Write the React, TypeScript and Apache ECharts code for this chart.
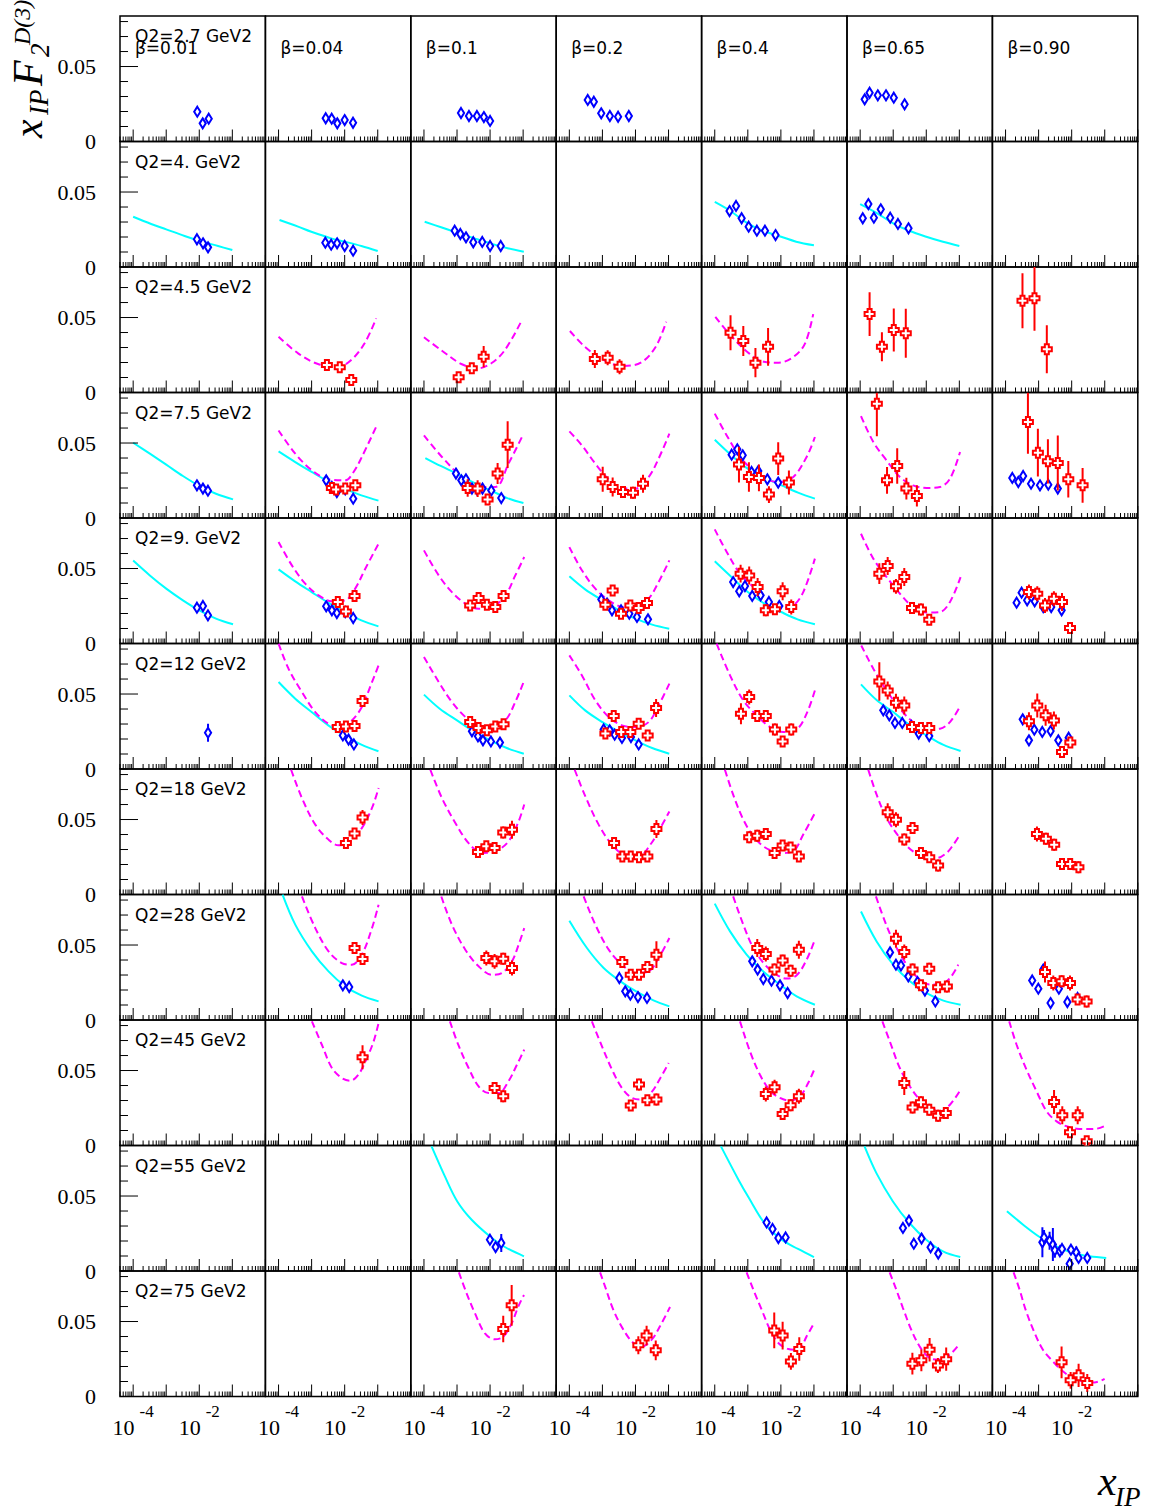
import React, { useEffect, useRef } from "react";
import * as echarts from "echarts";

const LEFT = 120;
const TOP = 16;
const CELL_W = 145.4;
const CELL_H = 125.5;
const X_MIN = 4e-5;
const X_MAX = 1;
const Y_MAX = 0.0837;

const q2Labels = [
  "Q2=2.7 GeV2", "Q2=4. GeV2", "Q2=4.5 GeV2", "Q2=7.5 GeV2", "Q2=9. GeV2", "Q2=12 GeV2",
  "Q2=18 GeV2", "Q2=28 GeV2", "Q2=45 GeV2", "Q2=55 GeV2", "Q2=75 GeV2",
];
const betaLabels = ["β=0.01", "β=0.04", "β=0.1", "β=0.2", "β=0.4", "β=0.65", "β=0.90"];
const yTickValues = [0, 0.01, 0.02, 0.03, 0.04, 0.05, 0.06, 0.07, 0.08];
const xDecades = [-5, -4, -3, -2, -1, 0];

// key = "row-col" (1-based), rows = Q2 bins, cols = beta bins
// blue diamonds: [x_IP, xF2, err?]
const blueDiamonds: Record<string, number[][]> = {
  "1-1": [[8.7e-3, 0.0199], [1.27e-2, 0.0121], [1.93e-2, 0.0152]],
  "1-2": [[2.67e-3, 0.0155], [4.05e-3, 0.0152], [5.98e-3, 0.0121], [1.0e-2, 0.0143], [1.79e-2, 0.0125]],
  "1-3": [[1.32e-3, 0.019], [2.3e-3, 0.017], [4.0e-3, 0.017], [6.5e-3, 0.0163], [1.0e-2, 0.0137]],
  "1-4": [[3.6e-4, 0.0277], [5.5e-4, 0.0265], [9.2e-4, 0.0188], [1.68e-3, 0.017], [2.98e-3, 0.0165], [6.3e-3, 0.017]],
  "1-6": [[1.37e-4, 0.0281], [1.93e-4, 0.0325], [3.42e-4, 0.0308], [6.05e-4, 0.0308], [1.04e-3, 0.0292], [2.21e-3, 0.0248]],
  "2-1": [[8.5e-3, 0.0185], [1.3e-2, 0.0158], [1.84e-2, 0.0131]],
  "2-2": [[2.6e-3, 0.0162], [3.9e-3, 0.0149], [5.9e-3, 0.0158], [1.0e-2, 0.014], [1.8e-2, 0.0109]],
  "2-3": [[8.5e-4, 0.0242], [1.26e-3, 0.022], [1.87e-3, 0.0198], [3.1e-3, 0.0165], [5.8e-3, 0.0167], [1.0e-2, 0.014], [2.1e-2, 0.014]],
  "2-5": [[2.8e-4, 0.0373], [4.4e-4, 0.0407], [6.5e-4, 0.0325], [1.06e-3, 0.0269], [1.88e-3, 0.0242], [3.3e-3, 0.0242], [6.9e-3, 0.0213]],
  "2-6": [[1.2e-4, 0.0325], [1.77e-4, 0.042], [2.6e-4, 0.0329], [4.2e-4, 0.0385], [8.1e-4, 0.0329], [1.39e-3, 0.0287], [2.9e-3, 0.0258]],
  "4-1": [[8.5e-3, 0.0218], [1.29e-2, 0.0196], [1.83e-2, 0.0182]],
  "4-2": [[2.76e-3, 0.0251], [4.1e-3, 0.0207], [5.8e-3, 0.0173], [1.04e-2, 0.0191], [1.81e-2, 0.0129]],
  "4-3": [[9.3e-4, 0.0296], [1.35e-3, 0.0251], [1.86e-3, 0.0258], [2.83e-3, 0.0196], [4.0e-3, 0.0191], [5.9e-3, 0.0196], [1.09e-2, 0.0184], [2.18e-2, 0.0133]],
  "4-5": [[3.24e-4, 0.0422], [4.8e-4, 0.0458], [7.0e-4, 0.0418], [1.3e-3, 0.0307], [2.07e-3, 0.0313], [3.9e-3, 0.0258], [8.3e-3, 0.0236]],
  "4-7": [[1.6e-4, 0.0267], [2.43e-4, 0.024], [3.4e-4, 0.028], [5.9e-4, 0.0229], [1.1e-3, 0.0218], [1.96e-3, 0.0222], [3.8e-3, 0.0196]],
  "5-1": [[8.5e-3, 0.0239], [1.29e-2, 0.025], [1.83e-2, 0.0188]],
  "5-2": [[2.76e-3, 0.0248], [4.1e-3, 0.0221], [5.8e-3, 0.0203], [1.04e-2, 0.021], [1.81e-2, 0.017]],
  "5-4": [[9.3e-4, 0.0294], [1.38e-3, 0.0266], [1.95e-3, 0.0221], [3.65e-3, 0.0221], [6.5e-3, 0.0199], [1.11e-2, 0.0177], [2.39e-2, 0.0161]],
  "5-5": [[3.6e-4, 0.041], [5.5e-4, 0.0348], [8.2e-4, 0.0383], [1.36e-3, 0.0317], [2.44e-3, 0.0321], [4.35e-3, 0.0277], [8.95e-3, 0.025]],
  "5-7": [[2.16e-4, 0.0272], [3.06e-4, 0.0339], [4.5e-4, 0.0288], [7.6e-4, 0.0281], [1.38e-3, 0.0243], [2.4e-3, 0.0243], [4.97e-3, 0.0221]],
  "6-1": [[1.84e-2, 0.0242, 0.006]],
  "6-2": [[8.8e-3, 0.0224], [1.31e-2, 0.0196], [1.9e-2, 0.0164]],
  "6-3": [[2.83e-3, 0.0251], [4.3e-3, 0.0218], [6.1e-3, 0.0191], [1.06e-2, 0.0184], [1.99e-2, 0.0176]],
  "6-4": [[1.09e-3, 0.0264], [1.66e-3, 0.0258], [2.35e-3, 0.0229], [3.9e-3, 0.0207], [7.3e-3, 0.0213], [1.25e-2, 0.0164]],
  "6-6": [[5.0e-4, 0.0391], [7.6e-4, 0.0358], [1.13e-3, 0.0307], [1.88e-3, 0.0307], [3.5e-3, 0.0287], [5.9e-3, 0.0236], [1.23e-2, 0.022]],
  "6-7": [[3.3e-4, 0.0331], [5.1e-4, 0.0191], [7.4e-4, 0.0262], [1.29e-3, 0.0247], [2.3e-3, 0.0253], [3.94e-3, 0.0191], [8.1e-3, 0.0209]],
  "8-2": [[8.8e-3, 0.0231], [1.37e-2, 0.022]],
  "8-4": [[3.25e-3, 0.028], [4.9e-3, 0.0191], [7.0e-3, 0.0169], [1.19e-2, 0.0153], [2.23e-2, 0.0147]],
  "8-5": [[1.36e-3, 0.0391], [1.98e-3, 0.0336], [2.94e-3, 0.0273], [5.2e-3, 0.0262], [9.4e-3, 0.0231], [1.6e-2, 0.018]],
  "8-6": [[8.0e-4, 0.0451], [1.21e-3, 0.0369], [1.72e-3, 0.0364], [2.86e-3, 0.0291], [5.4e-3, 0.0253], [9.1e-3, 0.0196], [1.88e-2, 0.0124]],
  "8-7": [[6.4e-4, 0.0264], [9.8e-4, 0.0209], [1.38e-3, 0.0336], [2.3e-3, 0.0113], [4.1e-3, 0.0209], [7.4e-3, 0.012], [1.51e-2, 0.0147]],
  "10-3": [[9.9e-3, 0.0209], [1.47e-2, 0.016], [2.18e-2, 0.0187, 0.006]],
  "10-5": [[3.7e-3, 0.0324], [5.6e-3, 0.028], [8.4e-3, 0.022], [1.39e-2, 0.0224]],
  "10-6": [[1.97e-3, 0.0287], [2.99e-3, 0.0336], [4.2e-3, 0.0182], [7.2e-3, 0.0216], [1.35e-2, 0.0158], [2.3e-2, 0.0116]],
  "10-7": [
    [1.3e-3, 0.0191, 0.01], [1.46e-3, 0.0224, 0.005], [2.15e-3, 0.0202, 0.006], [2.7e-3, 0.0176, 0.011],
    [3.1e-3, 0.0138, 0.005], [4.4e-3, 0.0131], [5.1e-3, 0.0147], [8.7e-3, 0.0049], [9.5e-3, 0.0142],
    [1.38e-2, 0.0124, 0.004], [1.62e-2, 0.0087], [2.96e-2, 0.0087],
  ],
};

// red crosses: [x_IP, xF2, err]
const redCrosses: Record<string, number[][]> = {
  "3-2": [[2.9e-3, 0.0183, 0.002], [7.1e-3, 0.0168, 0.002], [1.58e-2, 0.0083, 0.002]],
  "3-3": [[1.12e-3, 0.0101, 0.002], [2.8e-3, 0.0161, 0.003], [6.4e-3, 0.0239, 0.0071]],
  "3-4": [[5.9e-4, 0.0223, 0.006], [1.44e-3, 0.0232, 0.005], [3.3e-3, 0.0172, 0.005]],
  "3-5": [[3.0e-4, 0.0399, 0.0117], [7.3e-4, 0.0343, 0.01], [1.7e-3, 0.0199, 0.0097], [4.1e-3, 0.0305, 0.0126]],
  "3-6": [[1.93e-4, 0.0523, 0.0146], [4.55e-4, 0.0305, 0.0097], [1.04e-3, 0.0417, 0.0144], [2.4e-3, 0.0395, 0.0163]],
  "3-7": [[3.25e-4, 0.0612, 0.0183], [7.5e-4, 0.0628, 0.0217], [1.77e-3, 0.0288, 0.016]],
  "4-2": [[4.1e-3, 0.02, 0.003], [5.5e-3, 0.019, 0.003], [1.04e-2, 0.0196, 0.003], [2.1e-2, 0.0218, 0.003]],
  "4-3": [[2.1e-3, 0.02, 0.0059], [4.2e-3, 0.0196, 0.0056], [8.4e-3, 0.0124, 0.003], [1.69e-2, 0.0296, 0.007], [3.4e-2, 0.0489, 0.0156]],
  "4-4": [[1.02e-3, 0.0258, 0.0083], [2.04e-3, 0.0207, 0.0063], [4.2e-3, 0.0173, 0.004], [8.4e-3, 0.0169, 0.004], [1.69e-2, 0.0229, 0.006]],
  "4-5": [[5.4e-4, 0.0356, 0.0119], [1.08e-3, 0.0273, 0.0098], [2.17e-3, 0.0267, 0.0089], [4.35e-3, 0.0156, 0.0056], [8.3e-3, 0.0396, 0.0109], [1.75e-2, 0.0236, 0.008]],
  "4-6": [[3.2e-4, 0.0762, 0.0216], [6.5e-4, 0.0251, 0.0089], [1.32e-3, 0.0347, 0.0118], [2.5e-3, 0.0196, 0.0073], [5.2e-3, 0.0147, 0.0071]],
  "4-7": [[4.75e-4, 0.064, 0.0211], [9.5e-4, 0.0436, 0.0159], [1.91e-3, 0.0378, 0.0148], [3.8e-3, 0.0367, 0.0183], [7.9e-3, 0.0258, 0.0122], [2.14e-2, 0.0218, 0.0116]],
  "5-2": [[6.2e-3, 0.0277, 0.003], [1.09e-2, 0.0214, 0.003], [1.99e-2, 0.0317, 0.003]],
  "5-3": [[2.5e-3, 0.0254, 0.003], [4.5e-3, 0.0303, 0.003], [8.0e-3, 0.0259, 0.003], [1.44e-2, 0.0243, 0.003], [2.56e-2, 0.0317, 0.004]],
  "5-4": [[1.23e-3, 0.0259, 0.003], [2.04e-3, 0.0354, 0.003], [3.65e-3, 0.0199, 0.003], [7.0e-3, 0.0254, 0.003], [1.25e-2, 0.0237, 0.003], [2.23e-2, 0.027, 0.003]],
  "5-5": [[6.05e-4, 0.0466, 0.006], [1.1e-3, 0.0454, 0.006], [1.98e-3, 0.0377, 0.006], [3.5e-3, 0.0221, 0.004], [6.6e-3, 0.0228, 0.003], [1.13e-2, 0.0348, 0.006], [2.06e-2, 0.0243, 0.005]],
  "5-6": [[3.8e-4, 0.0466, 0.007], [6.8e-4, 0.0517, 0.006], [1.21e-3, 0.0381, 0.005], [2.16e-3, 0.0443, 0.006], [3.7e-3, 0.0237, 0.004], [6.9e-3, 0.0226, 0.004], [1.23e-2, 0.0159, 0.003]],
  "5-7": [[5.1e-4, 0.0343, 0.005], [9.1e-4, 0.0332, 0.005], [1.56e-3, 0.0254, 0.005], [2.9e-3, 0.0299, 0.005], [5.1e-3, 0.0277, 0.006], [8.9e-3, 0.0103, 0.003]],
  "6-2": [[6.2e-3, 0.028, 0.003], [1.09e-2, 0.0284, 0.003], [1.99e-2, 0.0287, 0.003], [3.47e-2, 0.0453, 0.004]],
  "6-3": [[2.5e-3, 0.0313, 0.003], [4.5e-3, 0.0273, 0.003], [8.0e-3, 0.0258, 0.003], [1.44e-2, 0.0284, 0.003], [2.56e-2, 0.0298, 0.003]],
  "6-4": [[1.23e-3, 0.0236, 0.003], [2.2e-3, 0.0353, 0.003], [3.7e-3, 0.0247, 0.003], [7.0e-3, 0.0247, 0.003], [1.25e-2, 0.0302, 0.003], [2.34e-2, 0.0224, 0.003], [4.2e-2, 0.0407, 0.006]],
  "6-5": [[6.2e-4, 0.0369, 0.007], [1.1e-3, 0.048, 0.005], [1.93e-3, 0.0353, 0.004], [3.5e-3, 0.0353, 0.004], [6.6e-3, 0.0264, 0.004], [1.13e-2, 0.0184, 0.003], [2.06e-2, 0.0264, 0.004]],
  "6-6": [[3.8e-4, 0.0584, 0.0128], [6.8e-4, 0.0524, 0.006], [1.21e-3, 0.0442, 0.006], [2.16e-3, 0.0424, 0.006], [3.7e-3, 0.028, 0.003], [6.9e-3, 0.0273, 0.003], [1.23e-2, 0.0273, 0.003]],
  "6-7": [[5.1e-4, 0.0318, 0.006], [9.1e-4, 0.0424, 0.008], [1.63e-3, 0.0358, 0.007], [2.9e-3, 0.0324, 0.006], [5.1e-3, 0.0113, 0.003], [9.1e-3, 0.0176, 0.003]],
  "7-2": [[1.09e-2, 0.0343, 0.003], [1.99e-2, 0.0406, 0.003], [3.47e-2, 0.0514, 0.005]],
  "7-3": [[4.3e-3, 0.0283, 0.003], [7.7e-3, 0.0321, 0.003], [1.37e-2, 0.031, 0.003], [2.5e-2, 0.0414, 0.004], [4.6e-2, 0.0432, 0.006]],
  "7-4": [[2.25e-3, 0.0343, 0.003], [4.0e-3, 0.0254, 0.003], [7.2e-3, 0.0254, 0.003], [1.28e-2, 0.0248, 0.003], [2.29e-2, 0.0254, 0.003], [4.3e-2, 0.0437, 0.006]],
  "7-5": [[1.1e-3, 0.0381, 0.004], [1.93e-3, 0.0392, 0.004], [3.5e-3, 0.0403, 0.004], [6.45e-3, 0.0277, 0.003], [1.13e-2, 0.0326, 0.003], [1.97e-2, 0.0314, 0.003], [3.5e-2, 0.0254, 0.003]],
  "7-6": [[6.8e-4, 0.0548, 0.006], [1.21e-3, 0.0499, 0.005], [2.16e-3, 0.0366, 0.004], [3.85e-3, 0.0443, 0.004], [6.9e-3, 0.0277, 0.003], [1.23e-2, 0.0248, 0.003], [2.28e-2, 0.0194, 0.004]],
  "7-7": [[8.9e-4, 0.0403, 0.005], [1.66e-3, 0.0372, 0.004], [2.96e-3, 0.0332, 0.004], [5.1e-3, 0.0203, 0.003], [9.0e-3, 0.0203, 0.003], [1.6e-2, 0.0181, 0.004]],
  "8-2": [[1.99e-2, 0.048, 0.004], [3.47e-2, 0.0407, 0.004]],
  "8-3": [[7.7e-3, 0.0413, 0.005], [1.37e-2, 0.0391, 0.005], [2.5e-2, 0.0409, 0.004], [4.6e-2, 0.0347, 0.005]],
  "8-4": [[4.0e-3, 0.0387, 0.004], [7.2e-3, 0.0302, 0.003], [1.28e-2, 0.0302, 0.003], [2.29e-2, 0.0353, 0.003], [4.3e-2, 0.0436, 0.009]],
  "8-5": [[1.93e-3, 0.048, 0.006], [3.5e-3, 0.044, 0.005], [6.4e-3, 0.0336, 0.004], [1.13e-2, 0.0396, 0.004], [1.97e-2, 0.0329, 0.004], [3.5e-2, 0.0469, 0.006]],
  "8-6": [[1.21e-3, 0.0542, 0.006], [2.16e-3, 0.0453, 0.005], [3.85e-3, 0.0336, 0.004], [6.9e-3, 0.0231, 0.003], [1.23e-2, 0.0342, 0.004], [2.28e-2, 0.0218, 0.003], [4.2e-2, 0.0224, 0.004]],
  "8-7": [[1.56e-3, 0.032, 0.007], [2.78e-3, 0.0247, 0.005], [4.97e-3, 0.0258, 0.004], [8.9e-3, 0.0247, 0.005], [1.51e-2, 0.0136, 0.003], [2.83e-2, 0.0124, 0.004]],
  "9-2": [[3.47e-2, 0.0588, 0.008]],
  "9-3": [[1.37e-2, 0.0383, 0.004], [2.5e-2, 0.0328, 0.004]],
  "9-4": [[7.2e-3, 0.0266, 0.003], [1.28e-2, 0.0406, 0.004], [2.29e-2, 0.0301, 0.003], [4.3e-2, 0.0306, 0.004]],
  "9-5": [[3.5e-3, 0.0343, 0.005], [6.45e-3, 0.0388, 0.005], [1.13e-2, 0.021, 0.003], [1.97e-2, 0.0268, 0.004], [3.5e-2, 0.0328, 0.005]],
  "9-6": [[2.16e-3, 0.0417, 0.008], [3.85e-3, 0.0254, 0.004], [6.9e-3, 0.0288, 0.004], [1.23e-2, 0.0239, 0.004], [2.28e-2, 0.0199, 0.004], [3.9e-2, 0.0217, 0.004]],
  "9-7": [[2.93e-3, 0.029, 0.008], [5.2e-3, 0.0201, 0.006], [8.9e-3, 0.0088, 0.003], [1.52e-2, 0.0201, 0.006], [2.85e-2, 0.0028, 0.003]],
  "11-3": [[2.5e-2, 0.045, 0.0089], [4.5e-2, 0.0608, 0.0136]],
  "11-4": [[1.22e-2, 0.0341, 0.006], [2.17e-2, 0.0406, 0.0066], [4.1e-2, 0.0308, 0.0066]],
  "11-5": [[6.3e-3, 0.0441, 0.0119], [1.13e-2, 0.0406, 0.0093], [2.01e-2, 0.0234, 0.0056], [3.6e-2, 0.0317, 0.0078]],
  "11-6": [[3.8e-3, 0.0219, 0.0072], [7.1e-3, 0.0241, 0.0072], [1.26e-2, 0.0312, 0.0078], [2.25e-2, 0.0207, 0.005], [4.0e-2, 0.0249, 0.0078]],
  "11-7": [[4.95e-3, 0.0228, 0.0106], [9.3e-3, 0.0108, 0.0056], [1.62e-2, 0.0141, 0.0078], [2.96e-2, 0.009, 0.006]],
};

// solid cyan fit curves
const cyanCurves: Record<string, number[][]> = {
  "2-1": [[1e-4, 0.0335], [3.5e-4, 0.0287], [1e-3, 0.0251], [3.6e-3, 0.0207], [1e-2, 0.0175], [3.7e-2, 0.014], [1e-1, 0.0113]],
  "2-2": [[1.07e-4, 0.0313], [3.9e-4, 0.0269], [9.8e-4, 0.0235], [3.9e-3, 0.0191], [1e-2, 0.0169], [3.2e-2, 0.014], [1e-1, 0.0107]],
  "2-3": [[1.05e-4, 0.0302], [3.3e-4, 0.0265], [1.02e-3, 0.0229], [3.4e-3, 0.0191], [1e-2, 0.0158], [3.4e-2, 0.0125], [1.05e-1, 0.0102]],
  "2-5": [[1e-4, 0.0435], [2.7e-4, 0.038], [1e-3, 0.0291], [2.8e-3, 0.0242], [1.02e-2, 0.0202], [2.9e-2, 0.0169], [1e-1, 0.0145]],
  "2-6": [[1e-4, 0.042], [3.2e-4, 0.036], [1e-3, 0.0291], [3.2e-3, 0.024], [1e-2, 0.0202], [3.2e-2, 0.0168], [1e-1, 0.014]],
  "4-1": [[1e-4, 0.0502], [3.2e-4, 0.0429], [1e-3, 0.0356], [3.2e-3, 0.028], [1.02e-2, 0.0213], [3.2e-2, 0.0162], [1.05e-1, 0.0124]],
  "4-2": [[1e-4, 0.0444], [3.2e-4, 0.0373], [1e-3, 0.0307], [3.2e-3, 0.0244], [1e-2, 0.0196], [3.2e-2, 0.0151], [1.05e-1, 0.0116]],
  "4-3": [[1.1e-4, 0.04], [3.2e-4, 0.0347], [1e-3, 0.0296], [3.2e-3, 0.0236], [1.05e-2, 0.0184], [3.3e-2, 0.0133], [1.02e-1, 0.01]],
  "4-5": [[1e-4, 0.0522], [3.2e-4, 0.0418], [1e-3, 0.0329], [3.3e-3, 0.0267], [1.05e-2, 0.0218], [3.3e-2, 0.0169], [1.07e-1, 0.0129]],
  "5-1": [[1e-4, 0.0553], [3.2e-4, 0.0454], [1e-3, 0.0366], [3.2e-3, 0.0288], [1e-2, 0.0221], [3.2e-2, 0.0166], [1.05e-1, 0.0128]],
  "5-2": [[1e-4, 0.0494], [3.2e-4, 0.0414], [1e-3, 0.0343], [3.2e-3, 0.0272], [1e-2, 0.021], [3.2e-2, 0.0154], [1.05e-1, 0.0114]],
  "5-4": [[1e-4, 0.0448], [3.0e-4, 0.0361], [1e-3, 0.0288], [3.2e-3, 0.0221], [1e-2, 0.0166], [3.2e-2, 0.0126], [1.05e-1, 0.0099]],
  "5-5": [[1e-4, 0.0548], [3.2e-4, 0.0443], [1e-3, 0.0343], [3.2e-3, 0.0266], [1.02e-2, 0.021], [3.2e-2, 0.0161], [1.07e-1, 0.0128]],
  "6-2": [[1e-4, 0.058], [3.2e-4, 0.0469], [1e-3, 0.038], [3.2e-3, 0.0291], [1e-2, 0.0224], [3.2e-2, 0.0162], [1.05e-1, 0.0118]],
  "6-3": [[1e-4, 0.0496], [3.0e-4, 0.0402], [1e-3, 0.0324], [3.2e-3, 0.0251], [1e-2, 0.0191], [3.2e-2, 0.014], [1.05e-1, 0.0102]],
  "6-4": [[1e-4, 0.0491], [3.0e-4, 0.0391], [1e-3, 0.0313], [3.2e-3, 0.0247], [1e-2, 0.0191], [3.2e-2, 0.014], [1.05e-1, 0.0102]],
  "6-6": [[1.06e-4, 0.0564], [3.2e-4, 0.0458], [1e-3, 0.038], [3.2e-3, 0.0291], [1.02e-2, 0.0224], [3.2e-2, 0.0162], [1.09e-1, 0.012]],
  "8-2": [[1.32e-4, 0.0836], [3.2e-4, 0.0636], [1.02e-3, 0.0458], [3.25e-3, 0.0324], [1.04e-2, 0.0224], [3.3e-2, 0.0162], [1.06e-1, 0.0124]],
  "8-4": [[1e-4, 0.0662], [3.4e-4, 0.048], [1.09e-3, 0.0347], [3.5e-3, 0.0258], [1.11e-2, 0.0187], [3.5e-2, 0.0131], [1.06e-1, 0.0091]],
  "8-5": [[1e-4, 0.0776], [2.9e-4, 0.0591], [9.2e-4, 0.0436], [2.93e-3, 0.0324], [9.4e-3, 0.0236], [3.0e-2, 0.0158], [1.07e-1, 0.0102]],
  "8-6": [[1.06e-4, 0.0724], [3.15e-4, 0.0524], [1.0e-3, 0.0369], [3.2e-3, 0.0258], [1.02e-2, 0.018], [3.3e-2, 0.0129], [1.09e-1, 0.0102]],
  "10-3": [[1.7e-4, 0.0831], [4.3e-4, 0.0631], [1.02e-3, 0.0464], [2.77e-3, 0.0342], [1.04e-2, 0.0227], [2.8e-2, 0.016], [1.06e-1, 0.0098]],
  "10-5": [[1.54e-4, 0.0831], [5.2e-4, 0.0609], [1.06e-3, 0.049], [3.3e-3, 0.0315], [1.06e-2, 0.0209], [3.3e-2, 0.0147], [1.0e-1, 0.0093]],
  "10-6": [[1.36e-4, 0.0831], [3.1e-4, 0.0653], [9.8e-4, 0.0464], [3.1e-3, 0.032], [1e-2, 0.0209], [3.2e-2, 0.0131], [1.07e-1, 0.0093]],
  "10-7": [[1.1e-4, 0.0398], [3.4e-4, 0.0309], [1.07e-3, 0.0227], [3.4e-3, 0.0164], [1.09e-2, 0.012], [3.5e-2, 0.0098], [1.11e-1, 0.0087]],
};

// dashed magenta fit curves
const magentaCurves: Record<string, number[][]> = {
  "3-2": [[1e-4, 0.0372], [3.9e-4, 0.0261], [1.56e-3, 0.019], [6.3e-3, 0.0172], [1.58e-2, 0.0217], [4.0e-2, 0.0328], [9.0e-2, 0.0495]],
  "3-3": [[1e-4, 0.0368], [3.3e-4, 0.0283], [1.35e-3, 0.019], [4.3e-3, 0.0161], [1.09e-2, 0.0195], [2.8e-2, 0.0283], [9.2e-2, 0.0483]],
  "3-4": [[1.04e-4, 0.041], [2.95e-4, 0.0305], [1.08e-3, 0.0217], [3.96e-3, 0.0177], [1.45e-2, 0.0199], [4.1e-2, 0.0305], [8.5e-2, 0.0472]],
  "3-5": [[1.04e-4, 0.0505], [2.97e-4, 0.0383], [1.09e-3, 0.0261], [3.1e-3, 0.0205], [8.7e-3, 0.0199], [2.46e-2, 0.0239], [5.4e-2, 0.0328], [9.5e-2, 0.0523]],
  "4-2": [[1e-4, 0.0584], [3.2e-4, 0.0429], [1.02e-3, 0.0318], [3.25e-3, 0.0258], [1.04e-2, 0.0251], [1.86e-2, 0.0307], [3.3e-2, 0.0407], [9.4e-2, 0.0618]],
  "4-3": [[1.0e-4, 0.0551], [3.5e-4, 0.0407], [1.41e-3, 0.0273], [4.5e-3, 0.0207], [1.44e-2, 0.0207], [3.6e-2, 0.0362], [1.03e-1, 0.0562]],
  "4-4": [[1e-4, 0.0578], [2.4e-4, 0.0484], [6.1e-4, 0.0362], [1.55e-3, 0.0258], [3.9e-3, 0.0196], [9.9e-3, 0.0196], [2.5e-2, 0.0273], [5.0e-2, 0.0396], [1.06e-1, 0.0562]],
  "4-5": [[1e-4, 0.0696], [2.3e-4, 0.0551], [5.8e-4, 0.0407], [1.46e-3, 0.0318], [3.7e-3, 0.0258], [9.4e-3, 0.024], [2.37e-2, 0.0273], [6.0e-2, 0.0407], [1.07e-1, 0.054]],
  "4-6": [[1.06e-4, 0.068], [2.5e-4, 0.0507], [6.3e-4, 0.0384], [1.6e-3, 0.0273], [4.0e-3, 0.0218], [1.02e-2, 0.02], [2.6e-2, 0.0207], [5.2e-2, 0.0262], [1.05e-1, 0.044]],
  "5-2": [[1e-4, 0.0677], [2.53e-4, 0.0521], [6.4e-4, 0.0399], [1.62e-3, 0.0321], [4.1e-3, 0.0281], [1.04e-2, 0.0288], [2.08e-2, 0.0366], [4.2e-2, 0.0499], [1.06e-1, 0.0666]],
  "5-3": [[1.0e-4, 0.0621], [2.8e-4, 0.0454], [7.0e-4, 0.0343], [1.78e-3, 0.0266], [4.5e-3, 0.0232], [1.14e-2, 0.0243], [2.9e-2, 0.0321], [5.8e-2, 0.0454], [1.08e-1, 0.0577]],
  "5-4": [[1e-4, 0.0643], [2.4e-4, 0.0488], [6.1e-4, 0.0366], [1.55e-3, 0.0288], [3.9e-3, 0.0243], [9.9e-3, 0.0232], [2.5e-2, 0.0299], [5.0e-2, 0.041], [1.06e-1, 0.0554]],
  "5-5": [[1e-4, 0.0761], [2.3e-4, 0.061], [5.8e-4, 0.0466], [1.46e-3, 0.0377], [3.7e-3, 0.0277], [9.4e-3, 0.0237], [2.37e-2, 0.0254], [4.75e-2, 0.0343], [1.07e-1, 0.0566]],
  "5-6": [[1.06e-4, 0.0732], [2.5e-4, 0.0566], [6.3e-4, 0.0443], [1.6e-3, 0.0332], [4.0e-3, 0.0243], [1.02e-2, 0.0206], [2.6e-2, 0.021], [5.2e-2, 0.0277], [1.09e-1, 0.0443]],
  "6-2": [[1e-4, 0.0836], [2.0e-4, 0.0669], [5.1e-4, 0.0513], [1.29e-3, 0.038], [3.25e-3, 0.0302], [8.2e-3, 0.028], [1.65e-2, 0.0324], [3.3e-2, 0.0413], [6.7e-2, 0.058], [1.06e-1, 0.0691]],
  "6-3": [[1.0e-4, 0.0747], [2.8e-4, 0.058], [7.0e-4, 0.0447], [1.78e-3, 0.0347], [4.5e-3, 0.028], [1.14e-2, 0.0269], [2.9e-2, 0.0324], [5.8e-2, 0.0447], [1.08e-1, 0.0591]],
  "6-4": [[1e-4, 0.0758], [2.4e-4, 0.0624], [6.1e-4, 0.0458], [1.55e-3, 0.0347], [3.9e-3, 0.0291], [9.9e-3, 0.028], [2.5e-2, 0.0313], [5.0e-2, 0.0424], [1.06e-1, 0.0569]],
  "6-5": [[1.14e-4, 0.0836], [2.9e-4, 0.0624], [7.3e-4, 0.0458], [1.85e-3, 0.0358], [4.7e-3, 0.028], [1.18e-2, 0.0247], [3.0e-2, 0.0264], [6.0e-2, 0.0369], [1.07e-1, 0.0524]],
  "6-6": [[1.08e-4, 0.0824], [2.5e-4, 0.0669], [6.3e-4, 0.0524], [1.6e-3, 0.0402], [4.0e-3, 0.0313], [1.02e-2, 0.0264], [2.6e-2, 0.0269], [5.2e-2, 0.0313], [1.09e-1, 0.0424]],
  "7-2": [[2.4e-4, 0.0832], [5.1e-4, 0.0643], [1.29e-3, 0.0466], [3.25e-3, 0.0366], [6.5e-3, 0.0328], [1.31e-2, 0.0343], [3.3e-2, 0.0443], [6.7e-2, 0.0577], [1.06e-1, 0.071]],
  "7-3": [[1.56e-4, 0.0832], [3.5e-4, 0.0643], [8.9e-4, 0.0477], [2.24e-3, 0.0343], [5.7e-3, 0.0277], [1.44e-2, 0.0288], [3.6e-2, 0.0354], [7.3e-2, 0.0488], [1.08e-1, 0.06]],
  "7-4": [[1.45e-4, 0.0832], [3.05e-4, 0.0654], [7.7e-4, 0.0466], [1.95e-3, 0.0332], [4.9e-3, 0.0261], [1.25e-2, 0.0254], [2.8e-2, 0.0332], [5.65e-2, 0.0443], [1.06e-1, 0.0554]],
  "7-5": [[2.03e-4, 0.0832], [3.6e-4, 0.0666], [7.3e-4, 0.05], [1.46e-3, 0.0389], [2.93e-3, 0.0322], [5.9e-3, 0.0288], [1.18e-2, 0.0277], [2.37e-2, 0.0288], [4.75e-2, 0.04], [1.07e-1, 0.0543]],
  "7-6": [[1.76e-4, 0.0832], [3.15e-4, 0.0666], [6.3e-4, 0.051], [1.6e-3, 0.0377], [4.0e-3, 0.0288], [1.02e-2, 0.0255], [2.06e-2, 0.0243], [4.1e-2, 0.0277], [6.6e-2, 0.0332], [1.0e-1, 0.0392]],
  "8-2": [[5.1e-4, 0.0824], [1.29e-3, 0.0613], [3.25e-3, 0.0458], [8.2e-3, 0.038], [1.65e-2, 0.0369], [3.3e-2, 0.0436], [6.7e-2, 0.0613], [1.06e-1, 0.0769]],
  "8-3": [[3.35e-4, 0.0824], [7.0e-4, 0.0636], [1.78e-3, 0.0469], [4.5e-3, 0.0358], [1.14e-2, 0.0302], [2.29e-2, 0.0313], [4.6e-2, 0.0391], [7.3e-2, 0.0502], [1.08e-1, 0.0613]],
  "8-4": [[2.7e-4, 0.0824], [6.1e-4, 0.0636], [1.55e-3, 0.0469], [3.9e-3, 0.0369], [9.9e-3, 0.0313], [2.5e-2, 0.0324], [5.0e-2, 0.0413], [1.06e-1, 0.0547]],
  "8-5": [[3.6e-4, 0.0824], [7.3e-4, 0.0636], [1.46e-3, 0.048], [3.3e-3, 0.0369], [7.4e-3, 0.0302], [1.49e-2, 0.0276], [3.0e-2, 0.0298], [6.0e-2, 0.0402], [1.07e-1, 0.0536]],
  "8-6": [[3.0e-4, 0.0824], [5.6e-4, 0.0658], [1.13e-3, 0.0502], [2.55e-3, 0.0369], [5.7e-3, 0.028], [1.29e-2, 0.0236], [2.6e-2, 0.0236], [5.2e-2, 0.028], [9.3e-2, 0.0369]],
  "9-2": [[1.02e-3, 0.0828], [2.04e-3, 0.0672], [4.1e-3, 0.0517], [8.2e-3, 0.045], [1.47e-2, 0.0432], [2.6e-2, 0.0472], [4.7e-2, 0.0583], [7.5e-2, 0.0694], [1.06e-1, 0.0817]],
  "9-3": [[6.1e-4, 0.0828], [1.09e-3, 0.0672], [2.24e-3, 0.0517], [4.5e-3, 0.0394], [9.0e-3, 0.035], [1.81e-2, 0.035], [3.6e-2, 0.0428], [6.5e-2, 0.0539], [1.08e-1, 0.0639]],
  "9-4": [[4.8e-4, 0.0828], [9.7e-4, 0.0661], [1.95e-3, 0.0506], [3.9e-3, 0.0383], [7.9e-3, 0.0317], [1.58e-2, 0.0306], [3.2e-2, 0.0361], [5.65e-2, 0.045], [1.01e-1, 0.055]],
  "9-5": [[5.8e-4, 0.0828], [1.16e-3, 0.0628], [2.33e-3, 0.0472], [4.7e-3, 0.0366], [9.4e-3, 0.0317], [1.88e-2, 0.03], [3.8e-2, 0.0328], [6.7e-2, 0.0417], [1.07e-1, 0.0517]],
  "9-6": [[4.7e-4, 0.0828], [7.9e-4, 0.0694], [1.58e-3, 0.0517], [3.2e-3, 0.0394], [6.4e-3, 0.0306], [1.29e-2, 0.0261], [2.6e-2, 0.0228], [5.2e-2, 0.0272], [1.09e-1, 0.0372]],
  "9-7": [[1.29e-4, 0.0828], [2.16e-4, 0.0672], [4.3e-4, 0.0506], [8.7e-4, 0.0361], [1.74e-3, 0.0228], [3.5e-3, 0.0161], [7.0e-3, 0.0128], [1.41e-2, 0.0112], [2.8e-2, 0.011], [5.65e-2, 0.0112], [9.4e-2, 0.0128]],
  "11-3": [[1.14e-3, 0.0828], [1.95e-3, 0.0688], [3.5e-3, 0.0554], [7.0e-3, 0.0421], [1.4e-2, 0.0381], [2.5e-2, 0.0399], [4.5e-2, 0.0488], [7.1e-2, 0.0599], [1.06e-1, 0.0677]],
  "11-4": [[8.5e-4, 0.0828], [1.2e-3, 0.0734], [2.14e-3, 0.0578], [4.3e-3, 0.0446], [8.6e-3, 0.0357], [1.54e-2, 0.0334], [3.1e-2, 0.0379], [5.5e-2, 0.0468], [1.11e-1, 0.0597]],
  "11-5": [[9.2e-4, 0.0828], [1.47e-3, 0.0712], [2.62e-3, 0.0579], [4.7e-3, 0.0446], [8.4e-3, 0.0357], [1.68e-2, 0.0317], [3.4e-2, 0.0312], [6.0e-2, 0.0401], [1.03e-1, 0.0494]],
  "11-6": [[7.8e-4, 0.0828], [1.24e-3, 0.0712], [1.97e-3, 0.059], [3.5e-3, 0.0446], [6.3e-3, 0.0334], [1.26e-2, 0.0257], [2.5e-2, 0.0246], [5.1e-2, 0.0279], [9.7e-2, 0.0346]],
  "11-7": [[1.75e-4, 0.0828], [2.66e-4, 0.0712], [4.2e-4, 0.0568], [7.6e-4, 0.0423], [1.35e-3, 0.0312], [2.7e-3, 0.0234], [5.4e-3, 0.0168], [1.09e-2, 0.0123], [2.19e-2, 0.0101], [4.9e-2, 0.0094], [9.9e-2, 0.0117]],
};

const CROSS = [[-2, -5], [2, -5], [2, -2], [5, -2], [5, 2], [2, 2], [2, 5], [-2, 5], [-2, 2], [-5, 2], [-5, -2], [-2, -2]];
const DIAMOND = [[0, -5], [3.1, 0], [0, 5], [-3.1, 0]];
const SERIF = '"Liberation Serif", "Times New Roman", serif';
const SANS = '"DejaVu Sans", "Liberation Sans", sans-serif';

const tickItem = (_params: any, api: any) => {
  const p = api.coord([api.value(0), api.value(1)]);
  const major = api.value(3) === 1;
  if (api.value(2) === 0) {
    const len = major ? 12 : 5;
    return { type: "line", shape: { x1: p[0], y1: p[1], x2: p[0], y2: p[1] - len }, style: { stroke: "#000", lineWidth: 1 } };
  }
  const len = major ? 18 : 8;
  return { type: "line", shape: { x1: p[0], y1: p[1], x2: p[0] + len, y2: p[1] }, style: { stroke: "#000", lineWidth: 1 } };
};

const markerItem = (color: string, shape: number[][]) => (params: any, api: any) => {
  const x = api.value(0);
  const y = api.value(1);
  const e = api.value(2) || 0;
  const p = api.coord([x, y]);
  const cs = params.coordSys;
  const children: any[] = [];
  if (e > 0) {
    const t = Math.max(api.coord([x, y + e])[1], cs.y);
    const b = Math.min(api.coord([x, y - e])[1], cs.y + cs.height);
    children.push({ type: "line", shape: { x1: p[0], y1: t, x2: p[0], y2: b }, style: { stroke: color, lineWidth: 2 } });
  }
  children.push({
    type: "polygon",
    shape: { points: shape.map(([dx, dy]) => [p[0] + dx, p[1] + dy]) },
    style: { fill: "#fff", stroke: color, lineWidth: 2 },
  });
  return { type: "group", children };
};

const App: React.FC = () => {
  const chartRef = useRef<HTMLDivElement>(null);

  useEffect(() => {
    document.body.style.margin = "0";
    if (!chartRef.current) return;
    const chart = echarts.init(chartRef.current, null, { renderer: "svg" });

    const grids: any[] = [];
    const xAxes: any[] = [];
    const yAxes: any[] = [];
    const series: any[] = [];

    const xTicks: number[][] = [];
    xDecades.forEach((e) => {
      for (let k = 1; k <= 9; k++) {
        const v = k * Math.pow(10, e);
        if (v >= X_MIN && v <= X_MAX * 1.0001) xTicks.push([v, 0, 0, k === 1 ? 1 : 0]);
      }
    });
    const yTicks = yTickValues.map((v) => [X_MIN, v, 1, Math.abs(v - 0.05) < 1e-9 ? 1 : 0]);

    for (let r = 0; r < 11; r++) {
      for (let c = 0; c < 7; c++) {
        const gi = r * 7 + c;
        grids.push({
          left: LEFT + c * CELL_W,
          top: TOP + r * CELL_H,
          width: CELL_W,
          height: CELL_H,
          show: true,
          borderColor: "#000",
          borderWidth: 1.5,
          backgroundColor: "transparent",
        });
        xAxes.push({
          type: "log",
          logBase: 10,
          gridIndex: gi,
          min: X_MIN,
          max: X_MAX,
          axisLine: { show: false },
          axisTick: { show: false },
          splitLine: { show: false },
          axisLabel: {
            show: r === 10,
            margin: 6,
            formatter: (v: number) => {
              const lg = Math.log10(v);
              const e = Math.round(lg);
              if (Math.abs(lg - e) > 0.01) return "";
              return e === -4 || e === -2 ? `{b|10}{s|${e}}` : "";
            },
            rich: {
              b: { fontFamily: SERIF, fontSize: 22, lineHeight: 36, verticalAlign: "bottom", color: "#000" },
              s: { fontFamily: SERIF, fontSize: 17, lineHeight: 17, verticalAlign: "top", color: "#000", padding: [0, 0, 0, 5] },
            },
          },
        });
        yAxes.push({
          type: "value",
          gridIndex: gi,
          min: 0,
          max: Y_MAX,
          interval: 0.05,
          axisLine: { show: false },
          axisTick: { show: false },
          splitLine: { show: false },
          axisLabel: {
            show: c === 0,
            margin: 24,
            fontFamily: SERIF,
            fontSize: 22,
            color: "#000",
            showMaxLabel: false,
            formatter: (v: number) => (Math.abs(v) < 1e-9 ? "0" : Math.abs(v - 0.05) < 1e-9 ? "0.05" : ""),
          },
        });
        series.push({
          type: "custom",
          xAxisIndex: gi,
          yAxisIndex: gi,
          renderItem: tickItem,
          data: c === 0 ? xTicks.concat(yTicks) : xTicks,
          encode: { x: 0, y: 1 },
          silent: true,
          z: 5,
        });
      }
    }

    const gridOf = (key: string) => {
      const [r, c] = key.split("-").map(Number);
      return (r - 1) * 7 + (c - 1);
    };

    Object.entries(cyanCurves).forEach(([key, pts]) => {
      const gi = gridOf(key);
      series.push({
        type: "line",
        xAxisIndex: gi,
        yAxisIndex: gi,
        data: pts,
        smooth: 0.35,
        showSymbol: false,
        symbol: "none",
        lineStyle: { color: "#00ffff", width: 2 },
        z: 2,
      });
    });
    Object.entries(magentaCurves).forEach(([key, pts]) => {
      const gi = gridOf(key);
      series.push({
        type: "line",
        xAxisIndex: gi,
        yAxisIndex: gi,
        data: pts,
        smooth: 0.35,
        showSymbol: false,
        symbol: "none",
        lineStyle: { color: "#ff00ff", width: 2, type: [7, 4] },
        z: 2,
      });
    });
    Object.entries(blueDiamonds).forEach(([key, pts]) => {
      const gi = gridOf(key);
      series.push({
        type: "custom",
        xAxisIndex: gi,
        yAxisIndex: gi,
        renderItem: markerItem("#0000ff", DIAMOND),
        data: pts.map((p) => [p[0], p[1], p[2] || 0]),
        encode: { x: 0, y: 1 },
        clip: true,
        z: 3,
      });
    });
    Object.entries(redCrosses).forEach(([key, pts]) => {
      const gi = gridOf(key);
      series.push({
        type: "custom",
        xAxisIndex: gi,
        yAxisIndex: gi,
        renderItem: markerItem("#ff0000", CROSS),
        data: pts,
        encode: { x: 0, y: 1 },
        clip: true,
        z: 4,
      });
    });

    const graphic: any[] = [];
    q2Labels.forEach((t, r) => {
      graphic.push({
        type: "text",
        x: 135,
        y: TOP + r * CELL_H + 20,
        z: 100,
        style: { text: t, font: `17px ${SANS}`, fill: "#000", verticalAlign: "middle", textVerticalAlign: "middle" },
      });
    });
    betaLabels.forEach((t, c) => {
      graphic.push({
        type: "text",
        x: LEFT + c * CELL_W + 15,
        y: 48,
        z: 100,
        style: { text: t, font: `17px ${SANS}`, fill: "#000", verticalAlign: "middle", textVerticalAlign: "middle" },
      });
    });

    // rotated y-axis title: x_IP F_2^D(3)
    const yTitle = [
      { text: "x", size: 42, x: 49, y: 138 },
      { text: "IP", size: 27, x: 52, y: 115 },
      { text: "F", size: 42, x: 49, y: 86 },
      { text: "2", size: 27, x: 53, y: 57 },
      { text: "D(3)", size: 24, x: 34, y: 45 },
    ];
    yTitle.forEach((p) => {
      graphic.push({
        type: "text",
        x: p.x,
        y: p.y,
        rotation: Math.PI / 2,
        z: 100,
        style: {
          text: p.text,
          font: `italic ${p.size}px ${SERIF}`,
          fill: "#000",
          align: "left",
          textAlign: "left",
          verticalAlign: "bottom",
          textVerticalAlign: "bottom",
        },
      });
    });
    // x-axis title: x_IP
    graphic.push({
      type: "text",
      x: 1098,
      y: 1502,
      z: 100,
      style: { text: "x", font: `italic 42px ${SERIF}`, fill: "#000", verticalAlign: "bottom", textVerticalAlign: "bottom" },
    });
    graphic.push({
      type: "text",
      x: 1115,
      y: 1510,
      z: 100,
      style: { text: "IP", font: `italic 27px ${SERIF}`, fill: "#000", verticalAlign: "bottom", textVerticalAlign: "bottom" },
    });

    chart.setOption({
      animation: false,
      backgroundColor: "#fff",
      grid: grids,
      xAxis: xAxes,
      yAxis: yAxes,
      series,
      graphic,
    });

    return () => {
      chart.dispose();
    };
  }, []);

  return <div ref={chartRef} style={{ width: 1151, height: 1511 }} />;
};

export default App;
